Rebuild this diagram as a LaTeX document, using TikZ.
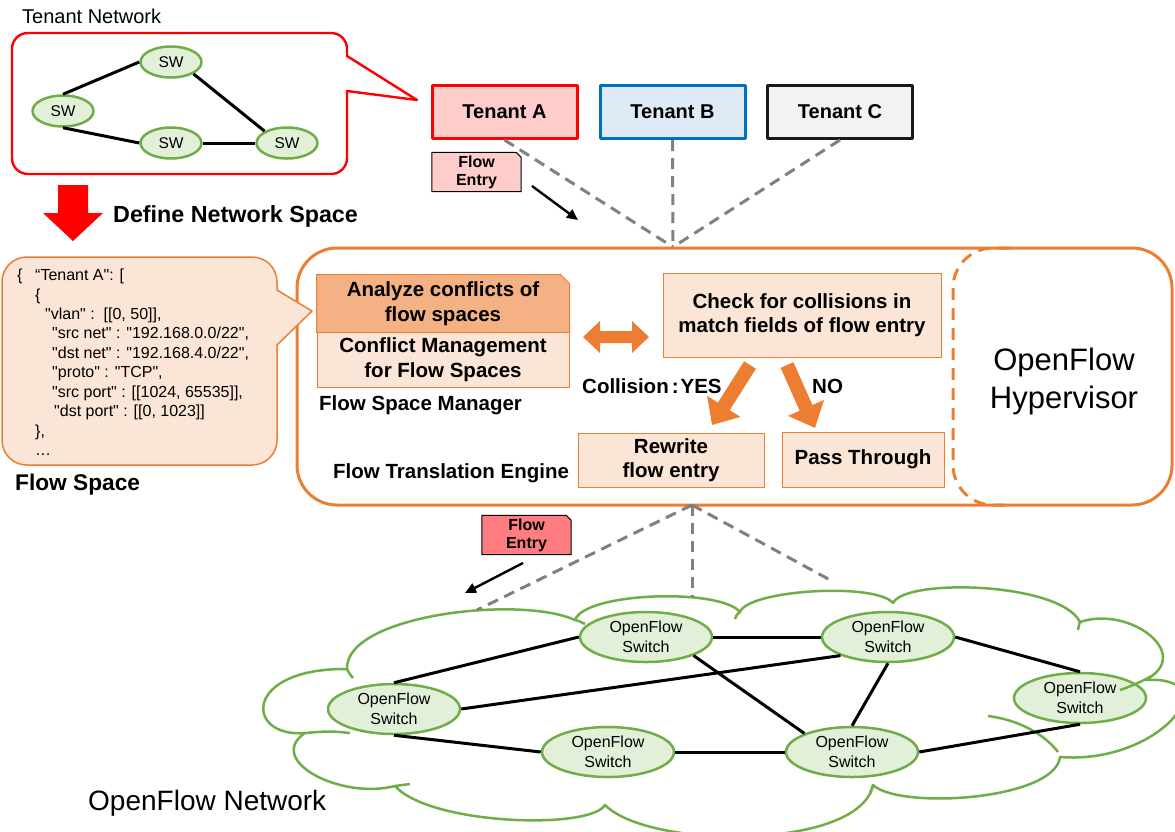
\documentclass[tikz,border=0pt]{standalone}
\usepackage{fontspec}
\setmainfont{Liberation Sans}
\newfontfamily\jsonfont{Liberation Sans}[Ligatures=TeXOff]
\usetikzlibrary{arrows.meta,shapes.geometric,backgrounds}

\definecolor{orng}{HTML}{ED7D31}
\definecolor{olight}{HTML}{FBE5D6}
\definecolor{omid}{HTML}{F4B183}
\definecolor{gborder}{HTML}{70AD47}
\definecolor{gfill}{HTML}{E2F0D9}
\definecolor{tapink}{HTML}{FFCCCC}
\definecolor{tbblue}{HTML}{0070C0}
\definecolor{tbfill}{HTML}{DEEBF7}
\definecolor{tcfill}{HTML}{F2F2F2}
\definecolor{dgrey}{HTML}{808080}
\definecolor{fered}{HTML}{FF7C80}

\tikzset{
  swnode/.style={ellipse, draw=gborder, fill=gfill, line width=2.5pt,
    minimum width=61pt, minimum height=31pt, inner sep=0pt,
    font=\fontsize{15.5}{18}\selectfont},
  ofsw/.style={ellipse, draw=gborder, fill=gfill, line width=2.5pt,
    minimum width=132pt, minimum height=50pt, inner sep=0pt, align=center,
    font=\fontsize{16}{19.5}\selectfont},
  link/.style={line width=3pt, black},
  tenant/.style={draw, line width=3pt, minimum width=145pt, minimum height=53pt,
    inner sep=0pt, font=\fontsize{20}{24}\selectfont\bfseries},
  procbox/.style={draw=orng, line width=1pt, fill=olight, align=center,
    inner sep=0pt, font=\fontsize{20.5}{24.5}\selectfont\bfseries},
  blabel/.style={anchor=base west, inner sep=0pt,
    font=\fontsize{20.5}{24.5}\selectfont\bfseries},
  notebox/.style={minimum width=89pt, minimum height=39pt, inner sep=0pt,
    align=center, font=\fontsize{16}{18}\selectfont\bfseries},
  notefold/.style={draw=black, line width=1pt},
  fstext/.style={anchor=base west, inner sep=0pt,
    font=\jsonfont\fontsize{16}{19.5}\selectfont},
  tenantlink/.style={dgrey, line width=3pt, dash pattern=on 11pt off 7pt},
  blockarrow/.style={orng, line width=14pt, -{Triangle[length=22pt,width=38pt]}},
  thinarrow/.style={line width=2.4pt, -{Triangle[length=11pt,width=10pt]}},
  cloudline/.style={draw=gborder, line width=2.5pt},
}

\begin{document}
\begin{tikzpicture}[x=1pt, y=-1pt, line join=round]
\useasboundingbox (0,0) rectangle (1175,831);

% ---------------- tenant network callout ----------------
\node[anchor=base west, inner sep=0pt, font=\fontsize{20}{24}\selectfont] (tnl) at (22,23) {Tenant Network};
\draw[red, line width=2.4pt, fill=white]
  (347,49) .. controls (347,40) and (340,33) .. (331,33)
  -- (28,33) .. controls (19,33) and (12,40) .. (12,49)
  -- (12,158) .. controls (12,167) and (19,174) .. (28,174)
  -- (331,174) .. controls (340,174) and (347,167) .. (347,158)
  -- (347,91) -- (417,100) -- (347,56) -- cycle;

\node[swnode] (swT) at (171,62) {SW};
\node[swnode] (swL) at (63,111) {SW};
\node[swnode] (swB) at (171,143) {SW};
\node[swnode] (swR) at (287,143) {SW};
\draw[link] (swL.north) -- (swT.west);
\draw[link] (swT.south east) -- (swR.north west);
\draw[link] (swL.south) -- (swB.west);
\draw[link] (swB.east) -- (swR.west);

% big red arrow and caption
\fill[red] (58,185) -- (88,185) -- (88,213) -- (103,213) -- (73,241) -- (43,213) -- (58,213) -- cycle;
\node[anchor=base west, inner sep=0pt, font=\fontsize{23.3}{27}\selectfont\bfseries] (dns) at (113,222) {Define Network Space};

% ---------------- tenants ----------------
\node[tenant, draw=red, fill=tapink] (tA) at (504.5,112) {Tenant A};
\node[tenant, draw=tbblue, fill=tbfill] (tB) at (672.5,112) {Tenant B};
\node[tenant, draw=black!90, fill=tcfill] (tC) at (840,112) {Tenant C};

\coordinate (hvtop) at (673,247);
\draw[tenantlink] (tA.south) -- (hvtop);
\draw[tenantlink] (tB.south) -- (hvtop);
\draw[tenantlink] (tC.south) -- (hvtop);

% flow entry sent by a tenant
\node[notebox] (fe1) at (476.5,172) {Flow\\Entry};
\begin{pgfonlayer}{background}
\draw[notefold, fill=tapink] (fe1.south west) -- (fe1.north west) -- ([xshift=-5pt]fe1.north east)
  -- ([yshift=-5pt]fe1.north east) -- (fe1.south east) -- cycle;
\end{pgfonlayer}
\coordinate (fa1s) at (532,186);
\coordinate (fa1e) at (578,220);
\draw[thinarrow] (fa1s) -- (fa1e);

% ---------------- hypervisor ----------------
\draw[orng, line width=3pt, rounded corners=40] (297,248) rectangle (1172,505);
\draw[orng, line width=3pt, dash pattern=on 12pt off 8pt, rounded corners=40]
  (1010,248) -- (953,248) -- (953,505) -- (1010,505);
\node[align=center, inner sep=0pt, font=\fontsize{31}{38}\selectfont] (ofh) at (1064,381) {OpenFlow\\Hypervisor};

% flow space callout
\draw[orng, line width=1.5pt, fill=olight]
  (277,290) -- (277,282) .. controls (277,268) and (266,257) .. (252,257)
  -- (27,257) .. controls (13,257) and (2,268) .. (2,282)
  -- (2,440) .. controls (2,454) and (13,465) .. (27,465)
  -- (252,465) .. controls (266,465) and (277,454) .. (277,440)
  -- (277,345) -- (312,311) -- cycle;
\node[fstext] (fs1a) at (17,280) {\{};
\node[fstext] (fs1b) at (35,280) {“Tenant A": [};
\node[fstext] (fs2) at (35,300) {\{};
\node[fstext] (fs3) at (45,319) {"vlan" :\ \ [[0, 50]],};
\node[fstext] (fs4) at (52,338.5) {"src net" : "192.168.0.0/22",};
\node[fstext] (fs5) at (52,358) {"dst net" : "192.168.4.0/22",};
\node[fstext] (fs6) at (52,377.5) {"proto" : "TCP",};
\node[fstext] (fs7) at (52,397) {"src port" : [[1024, 65535]],};
\node[fstext] (fs8) at (54,416.5) {"dst port" : [[0, 1023]]};
\node[fstext] (fs9) at (35,436) {\},};
\node[fstext] (fs10) at (35,455) {…};
\node[anchor=base west, inner sep=0pt, font=\fontsize{22.7}{27}\selectfont\bfseries] (fsl) at (15,490) {Flow Space};

% flow space manager
\node[procbox, draw=none, fill=none, minimum width=252pt, minimum height=57pt] (az) at (443,303.5) {Analyze conflicts of\\flow spaces};
\begin{pgfonlayer}{background}
\draw[orng, line width=1pt, fill=omid] (az.south west) -- (az.north west) -- ([xshift=-9pt]az.north east)
  -- ([yshift=-9pt]az.north east) -- (az.south east) -- cycle;
\end{pgfonlayer}
\node[procbox, minimum width=252pt, minimum height=55pt] (cm) at (443,359.5) {Conflict Management\\for Flow Spaces};
\node[blabel] (fsm) at (319,410) {Flow Space Manager};

% interaction between manager and translation engine
\fill[orng] (583,337) -- (600,321) -- (600,331) -- (632,331) -- (632,321) -- (649,337)
  -- (632,353) -- (632,343) -- (600,343) -- (600,353) -- cycle;

% flow translation engine
\node[procbox, minimum width=278pt, minimum height=84pt] (chk) at (802,315) {Check for collisions in\\match fields of flow entry};
\node[procbox, minimum width=186pt, minimum height=54pt] (rw) at (671,460) {Rewrite\\flow entry};
\node[procbox, minimum width=162pt, minimum height=55pt] (pt) at (863,459.5) {Pass Through};
\node[blabel] (fte) at (333,478) {Flow Translation Engine};
\node[blabel] (col) at (582,393) {Collision\hspace{3pt}:\hspace{2pt}YES};
\node[blabel] (no) at (812,393) {NO};

\coordinate (yesS) at (750,365);
\coordinate (yesE) at (712,425);
\coordinate (noS) at (787,365);
\coordinate (noE) at (815,428);
\draw[blockarrow] (yesS) -- (yesE);
\draw[blockarrow] (noS) -- (noE);

% ---------------- openflow network ----------------
\draw[cloudline, fill=white] (305,733)
  .. controls (245,738) and (242,668) .. (347,669)
  .. controls (345,615) and (520,595) .. (575,620)
  .. controls (585,592) and (720,588) .. (740,612)
  .. controls (748,590) and (875,582) .. (893,603)
  .. controls (905,578) and (1060,582) .. (1080,622)
  .. controls (1130,605) and (1195,655) .. (1145,680)
  .. controls (1230,675) and (1160,765) .. (1060,757)
  .. controls (1055,800) and (900,810) .. (873,785)
  .. controls (860,850) and (650,850) .. (605,805)
  .. controls (590,830) and (430,825) .. (395,786)
  .. controls (340,800) and (265,760) .. (305,733) -- cycle;
% inner arcs of the cloud
\draw[cloudline] (1058,752) .. controls (1045,735) and (1020,720) .. (988,716);
\draw[cloudline] (347,669) .. controls (349,673) .. (353,678);
\draw[cloudline] (575,620) .. controls (579,621) .. (585,624);
\draw[cloudline] (740,612) .. controls (737,614) .. (735,619);
\draw[cloudline] (1080,622) .. controls (1079,625) .. (1078,630);
\draw[cloudline] (873,785) .. controls (872,789) .. (870,794);
\draw[cloudline] (395,786) .. controls (402,785) .. (410,784);
\draw[cloudline] (305,733) .. controls (330,731) .. (350,733);

\coordinate (hvbot) at (692,505);
\coordinate (dl1) at (477,610);
\coordinate (dl2) at (692,597);
\coordinate (dl3) at (832,581);
\draw[tenantlink] (hvbot) -- (dl1);
\draw[tenantlink] (hvbot) -- (dl2);
\draw[tenantlink] (hvbot) -- (dl3);

% flow entry sent to the switches
\node[notebox] (fe2) at (526.5,535) {Flow\\Entry};
\begin{pgfonlayer}{background}
\draw[notefold, fill=fered] (fe2.south west) -- (fe2.north west) -- ([xshift=-5pt]fe2.north east)
  -- ([yshift=-5pt]fe2.north east) -- (fe2.south east) -- cycle;
\end{pgfonlayer}
\coordinate (fa2s) at (523,563);
\coordinate (fa2e) at (465,593);
\draw[thinarrow] (fa2s) -- (fa2e);

\node[ofsw] (s1) at (394,709) {OpenFlow\\Switch};
\node[ofsw] (s2) at (646,637) {OpenFlow\\Switch};
\node[ofsw] (s3) at (608,752) {OpenFlow\\Switch};
\node[ofsw] (s4) at (888,637) {OpenFlow\\Switch};
\node[ofsw] (s5) at (852,752) {OpenFlow\\Switch};
\node[ofsw] (s6) at (1080,698) {OpenFlow\\Switch};

% this cloud arc runs across the right-hand switch
\draw[cloudline] (1152,676) .. controls (1142,681) and (1132,686) .. (1120,690);

\draw[link] (s1.north) -- (s2.west);
\draw[link] (s1.east) -- (s4.south west);
\draw[link] (s1.south) -- (s3.west);
\draw[link] (s2.east) -- (s4.west);
\draw[link] (s2.south east) -- (s5.north west);
\draw[link] (s3.east) -- (s5.west);
\draw[link] (s4.south) -- (s5.north);
\draw[link] (s4.east) -- (s6.north);
\draw[link] (s5.east) -- (s6.south);

\node[anchor=base west, inner sep=0pt, font=\fontsize{28}{33}\selectfont] (ofn) at (88,810) {OpenFlow Network};

\end{tikzpicture}
\end{document}
